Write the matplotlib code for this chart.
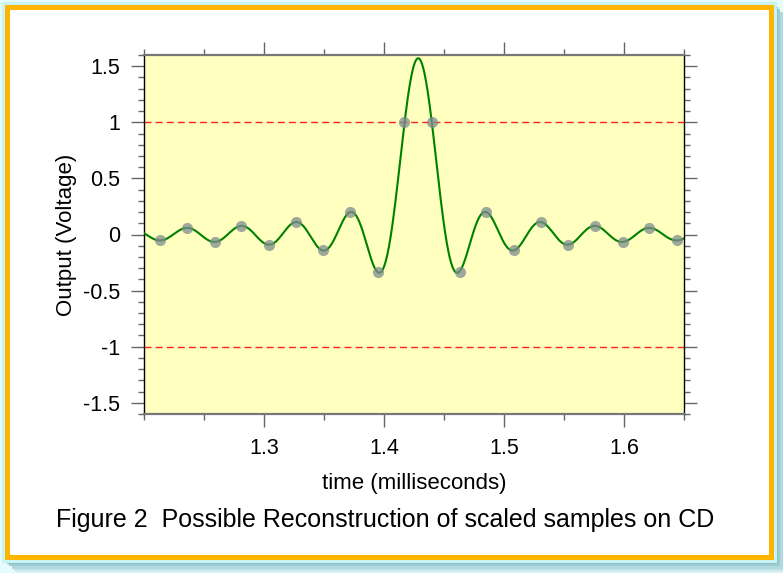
import numpy as np
import matplotlib.pyplot as plt
from matplotlib.patches import Rectangle
from matplotlib.ticker import MultipleLocator

# -----------------------------------------
# Data
# -----------------------------------------
sample_times = [1.213, 1.236, 1.259, 1.281, 1.304, 1.327, 1.349, 1.372, 1.395, 1.417,
                1.440, 1.463, 1.485, 1.508, 1.531, 1.553, 1.576, 1.599, 1.621, 1.644]
sample_values = [-0.05, 0.06, -0.07, 0.08, -0.09, 0.11, -0.14, 0.20, -0.33, 1.00,
                 1.00, -0.33, 0.20, -0.14, 0.11, -0.09, 0.08, -0.07, 0.06, -0.05]
limit_levels = [1.0, -1.0]
x_range = [1.2, 1.65]
y_range = [-1.6, 1.6]

# -----------------------------------------
# Band-limited pulse implied by the samples:
# centred between the two peak samples, scaled so it passes through them
# -----------------------------------------
ts = np.array(sample_times)
vs = np.array(sample_values)
period = np.mean(np.diff(ts))
top2 = np.argsort(vs)[-2:]
centre = ts[top2].mean()
scale = vs[top2].mean() / np.sinc(0.5)
t_fine = np.linspace(x_range[0], x_range[1], 900)
recon = scale * np.sinc((t_fine - centre) / period)

plt.rcParams['font.family'] = ['Liberation Sans', 'DejaVu Sans']

fig = plt.figure(figsize=(7.83, 5.73), dpi=100)
fig.patch.set_facecolor('white')

# -----------------------------------------
# Frame: cyan glow / shadow + orange border
# -----------------------------------------
W, H = 783.0, 573.0
def frac_rect(x0, y0, x1, y1, **kw):
    r = Rectangle((x0 / W, 1 - y1 / H), (x1 - x0) / W, (y1 - y0) / H,
                  transform=fig.transFigure, zorder=-10, **kw)
    fig.patches.append(r)

frac_rect(0, 0, 783, 573, facecolor='#e6fbfb', edgecolor='none')
for i, c in enumerate(['#d8f2f4', '#c4e6ea', '#b0dadf', '#9ccdd4', '#8fc3cb']):
    off = 12 - 2.2 * i
    frac_rect(4 + off, 4 + off, 775 + off, 561 + off, facecolor=c, edgecolor='none')
frac_rect(2, 2, 777, 563, facecolor='#c8f4f4', edgecolor='none')
frac_rect(5, 5, 774, 560, facecolor='#ffb400', edgecolor='none')
frac_rect(10, 10, 769, 555, facecolor='white', edgecolor='none')

# -----------------------------------------
# Axes
# -----------------------------------------
ax = fig.add_axes([144 / W, 1 - 414 / H, 540 / W, 359 / H])
ax.set_facecolor('#ffffc0')

ax.plot(t_fine, recon, color='#008000', lw=1.5, zorder=3)
for lvl in limit_levels:
    ax.axhline(lvl, color='#ff2020', lw=1.0, ls=(0, (5, 3)), zorder=2)
ax.plot(ts, vs, ls='none', marker='o', ms=8, mfc='#7f8c8d', mec='none',
        alpha=0.75, zorder=4)

ax.set_xlim(*x_range)
ax.set_ylim(*y_range)

ax.xaxis.set_minor_locator(MultipleLocator(0.05))
ax.yaxis.set_minor_locator(MultipleLocator(0.1))
ax.set_xticks([1.3, 1.4, 1.5, 1.6])
ax.set_xticklabels(['1.3', '1.4', '1.5', '1.6'])
ax.set_yticks([-1.5, -1, -0.5, 0, 0.5, 1, 1.5])
ax.set_yticklabels(['-1.5', '-1', '-0.5', '0', '0.5', '1', '1.5'])

ax.tick_params(which='both', direction='out', top=True, right=True,
               color='#666666', labelsize=15.5, labelcolor='black', width=1)
ax.tick_params(which='major', length=9.2, pad=8)
ax.tick_params(which='minor', length=4.6)

for side in ['left', 'right']:
    ax.spines[side].set_color('black')
    ax.spines[side].set_linewidth(1.0)
for side in ['top', 'bottom']:
    ax.spines[side].set_color('#777777')
    ax.spines[side].set_linewidth(1.6)

ax.set_xlabel('time (milliseconds)', fontsize=16, labelpad=10.5)
ax.set_ylabel('Output (Voltage)', fontsize=16, labelpad=4)

fig.text(385 / W, 1 - 520 / H,
         'Figure 2  Possible Reconstruction of scaled samples on CD',
         fontsize=18, ha='center', va='center')

fig.savefig('out.png', dpi=100, facecolor=fig.get_facecolor())
